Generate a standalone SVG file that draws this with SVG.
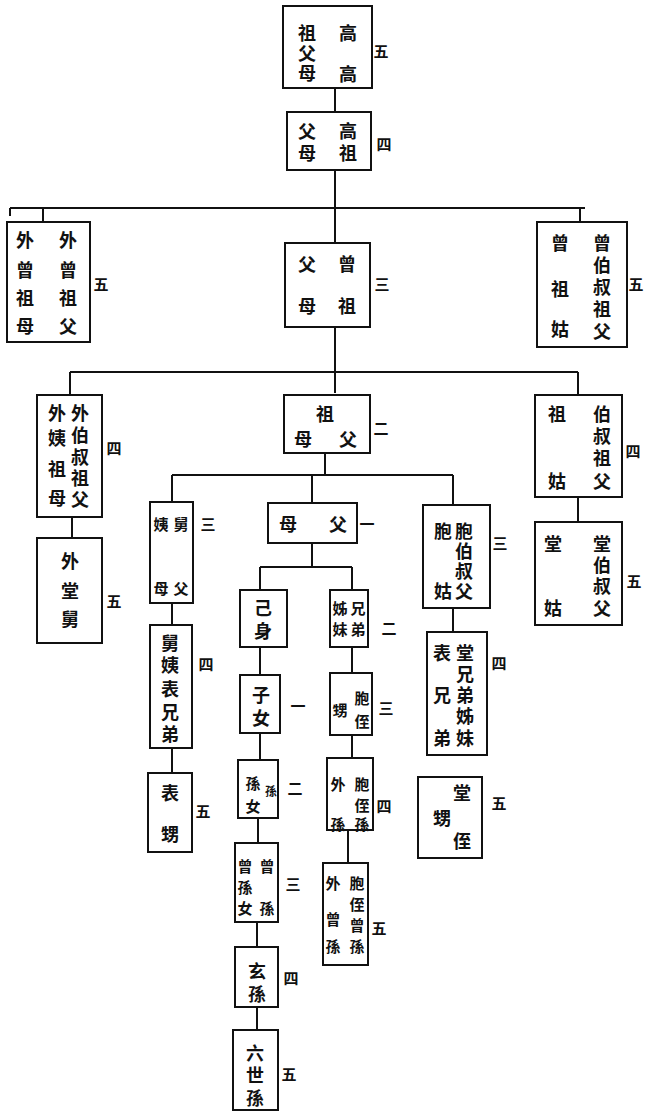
<svg xmlns="http://www.w3.org/2000/svg" width="645" height="1116" viewBox="0 0 645 1116">
<style>
.b{fill:#fff;stroke:#111;stroke-width:2}
.c{fill:none;stroke:#111;stroke-width:2}
text{font-family:"Noto Sans CJK TC","Noto Sans CJK SC",sans-serif;font-size:18px;font-weight:bold;fill:#111;text-anchor:middle;dominant-baseline:central}
.s{font-size:15px}
</style>
<rect width="645" height="1116" fill="#fff"/>
<g id="connectors">
<path class="c" d="M335 88V112M335 170V243M10 208H585M10 208V216M43 208V222M580 208V222M335 327V393M70 372H578M70 372V395M578 372V395M72 517V538M578 497V522M325 453V475M172 475H453M172 475V502M312 475V503M453 475V505M172 603V625M172 748V773M312 543V567M260 567H352M260 567V590M352 567V590M260 647V675M260 733V760M258 818V843M257 922V947M257 1007V1030M352 647V673M352 735V758M348 830V863M453 608V632"/>
</g>
<g id="n1"><rect class="b" x="283" y="6" width="89" height="82"/><text x="348" y="32">高</text><text x="348" y="73">高</text><text x="307" y="32">祖</text><text x="307" y="52">父</text><text x="307" y="72">母</text><text x="381" y="50" class="s">五</text></g>
<g id="n2"><rect class="b" x="287" y="112" width="84" height="58"/><text x="348" y="130">高</text><text x="348" y="152">祖</text><text x="307" y="130">父</text><text x="307" y="152">母</text><text x="384" y="143" class="s">四</text></g>
<g id="n3"><rect class="b" x="7" y="222" width="83" height="120"/><text x="68" y="239">外</text><text x="68" y="269">曾</text><text x="68" y="297">祖</text><text x="68" y="325">父</text><text x="25" y="239">外</text><text x="25" y="269">曾</text><text x="25" y="297">祖</text><text x="25" y="325">母</text><text x="101" y="283" class="s">五</text></g>
<g id="n4"><rect class="b" x="285" y="243" width="85" height="84"/><text x="347" y="263">曾</text><text x="347" y="305">祖</text><text x="307" y="263">父</text><text x="307" y="305">母</text><text x="382" y="283" class="s">三</text></g>
<g id="n5"><rect class="b" x="537" y="222" width="90" height="125"/><text x="602" y="242">曾</text><text x="602" y="264">伯</text><text x="602" y="286">叔</text><text x="602" y="308">祖</text><text x="602" y="330">父</text><text x="560" y="242">曾</text><text x="560" y="288">祖</text><text x="560" y="328">姑</text><text x="636" y="283" class="s">五</text></g>
<g id="n6"><rect class="b" x="37" y="395" width="65" height="122"/><text x="80" y="412">外</text><text x="80" y="434">伯</text><text x="80" y="456">叔</text><text x="80" y="477">祖</text><text x="80" y="498">父</text><text x="57" y="412">外</text><text x="57" y="437">姨</text><text x="57" y="468">祖</text><text x="57" y="497">母</text><text x="114" y="447" class="s">四</text></g>
<g id="n7"><rect class="b" x="37" y="538" width="65" height="105"/><text x="70" y="560">外</text><text x="70" y="590">堂</text><text x="70" y="618">舅</text><text x="114" y="600" class="s">五</text></g>
<g id="n8"><rect class="b" x="284" y="395" width="86" height="58"/><text x="325" y="413">祖</text><text x="303" y="438">母</text><text x="348" y="438">父</text><text x="381" y="427" class="s">二</text></g>
<g id="n9"><rect class="b" x="535" y="395" width="87" height="102"/><text x="602" y="413">伯</text><text x="602" y="435">叔</text><text x="602" y="457">祖</text><text x="602" y="480">父</text><text x="557" y="413">祖</text><text x="557" y="480">姑</text><text x="633" y="450" class="s">四</text></g>
<g id="n10"><rect class="b" x="535" y="522" width="87" height="103"/><text x="602" y="543">堂</text><text x="602" y="564">伯</text><text x="602" y="585">叔</text><text x="602" y="607">父</text><text x="553" y="543">堂</text><text x="553" y="607">姑</text><text x="634" y="580" class="s">五</text></g>
<g id="n11"><rect class="b" x="150" y="502" width="43" height="101"/><text x="161" y="523" class="s">姨</text><text x="181" y="523" class="s">舅</text><text x="161" y="587" class="s">母</text><text x="181" y="587" class="s">父</text><text x="208" y="523" class="s">三</text></g>
<g id="n12"><rect class="b" x="150" y="625" width="42" height="123"/><text x="170" y="642">舅</text><text x="170" y="664">姨</text><text x="170" y="688">表</text><text x="170" y="711">兄</text><text x="170" y="733">弟</text><text x="206" y="663" class="s">四</text></g>
<g id="n13"><rect class="b" x="148" y="773" width="44" height="79"/><text x="170" y="792">表</text><text x="170" y="833">甥</text><text x="203" y="810" class="s">五</text></g>
<g id="n14"><rect class="b" x="268" y="503" width="89" height="40"/><text x="288" y="523">母</text><text x="338" y="523">父</text><text x="367" y="523" class="s">一</text></g>
<g id="n15"><rect class="b" x="240" y="590" width="47" height="57"/><text x="263" y="607">己</text><text x="263" y="630">身</text></g>
<g id="n16"><rect class="b" x="330" y="590" width="38" height="57"/><text x="358" y="607" class="s">兄</text><text x="358" y="628" class="s">弟</text><text x="340" y="607" class="s">姊</text><text x="340" y="628" class="s">妹</text><text x="389" y="627" class="s">二</text></g>
<g id="n17"><rect class="b" x="240" y="675" width="40" height="58"/><text x="261" y="694">子</text><text x="261" y="717">女</text><text x="298" y="705" class="s">一</text></g>
<g id="n18"><rect class="b" x="330" y="673" width="42" height="62"/><text x="362" y="697" class="s">胞</text><text x="362" y="720" class="s">侄</text><text x="340" y="709" class="s">甥</text><text x="386" y="707" class="s">三</text></g>
<g id="n19"><rect class="b" x="238" y="760" width="40" height="58"/><text x="253" y="782" class="s">孫</text><text x="271" y="790" style="font-size:12px">孫</text><text x="253" y="805" class="s">女</text><text x="295" y="787" class="s">二</text></g>
<g id="n20"><rect class="b" x="327" y="758" width="46" height="72"/><text x="362" y="783" class="s">胞</text><text x="362" y="804" class="s">侄</text><text x="362" y="823" class="s">孫</text><text x="338" y="783" class="s">外</text><text x="338" y="823" class="s">孫</text><text x="384" y="805" class="s">四</text></g>
<g id="n21"><rect class="b" x="235" y="843" width="43" height="79"/><text x="267" y="865" class="s">曾</text><text x="267" y="907" class="s">孫</text><text x="245" y="865" class="s">曾</text><text x="245" y="886" class="s">孫</text><text x="245" y="907" class="s">女</text><text x="293" y="883" class="s">三</text></g>
<g id="n22"><rect class="b" x="235" y="947" width="43" height="60"/><text x="257" y="970">玄</text><text x="257" y="993">孫</text><text x="291" y="977" class="s">四</text></g>
<g id="n23"><rect class="b" x="233" y="1030" width="45" height="80"/><text x="255" y="1052">六</text><text x="255" y="1074">世</text><text x="255" y="1097">孫</text><text x="289" y="1073" class="s">五</text></g>
<g id="n24"><rect class="b" x="323" y="863" width="45" height="102"/><text x="357" y="882" class="s">胞</text><text x="357" y="903" class="s">侄</text><text x="357" y="924" class="s">曾</text><text x="357" y="945" class="s">孫</text><text x="333" y="882" class="s">外</text><text x="333" y="918" class="s">曾</text><text x="333" y="945" class="s">孫</text><text x="379" y="927" class="s">五</text></g>
<g id="n25"><rect class="b" x="423" y="505" width="67" height="103"/><text x="464" y="530">胞</text><text x="464" y="550">伯</text><text x="464" y="570">叔</text><text x="464" y="590">父</text><text x="443" y="530">胞</text><text x="443" y="590">姑</text><text x="500" y="542" class="s">三</text></g>
<g id="n26"><rect class="b" x="427" y="632" width="60" height="123"/><text x="465" y="652">堂</text><text x="465" y="673">兄</text><text x="465" y="694">弟</text><text x="465" y="715">姊</text><text x="465" y="737">妹</text><text x="442" y="652">表</text><text x="442" y="694">兄</text><text x="442" y="737">弟</text><text x="499" y="662" class="s">四</text></g>
<g id="n27"><rect class="b" x="418" y="777" width="64" height="81"/><text x="462" y="792">堂</text><text x="462" y="840">侄</text><text x="442" y="817">甥</text><text x="499" y="802" class="s">五</text></g>
</svg>
